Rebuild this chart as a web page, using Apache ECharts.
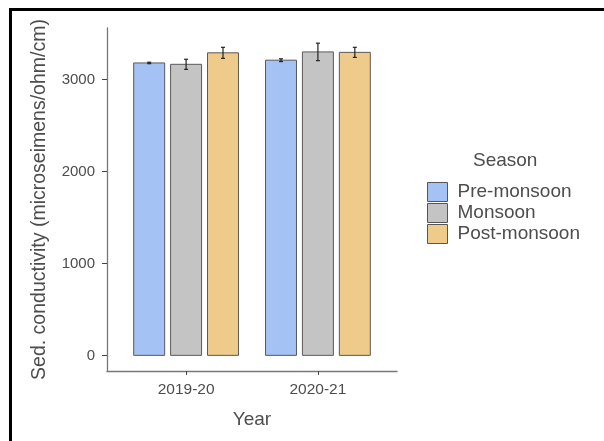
<!DOCTYPE html>
<html>
<head>
<meta charset="utf-8">
<script src="https://cdn.jsdelivr.net/npm/echarts@6/dist/echarts.min.js"></script>
<style>
  html, body { margin: 0; padding: 0; background: #fff; }
  #chart { width: 604px; height: 441px; }
  #frame { position: absolute; left: 9px; top: 8px; right: 0; bottom: 0;
           border-top: 3px solid #000; border-left: 3px solid #000; pointer-events: none; }
</style>
</head>
<body>
<div id="chart"></div>
<div id="frame"></div>
<script>
// data
var years = ['2019-20', '2020-21'];
var seasons = ['Pre-monsoon', 'Monsoon', 'Post-monsoon'];
var colors = ['#a4c2f4', '#c4c4c4', '#eecb8b'];
var preMonsoon = [3180, 3210];
var monsoon = [3165, 3300];
var postMonsoon = [3290, 3295];
var preErr = [8, 15];
var monsoonErr = [55, 95];
var postErr = [60, 55];
var yTicks = [0, 1000, 2000, 3000];

var means = [preMonsoon, monsoon, postMonsoon];
var errs = [preErr, monsoonErr, postErr];

var dodge = 0.28; // spacing between dodged bars, in x units
var barW = 0.235;
var font = 'Liberation Sans, Arial, sans-serif';

var chart = echarts.init(document.getElementById('chart'));

var makeSeries = function (k) {
  var data = years.map(function (y, i) {
    return [i + 1, means[k][i], errs[k][i]];
  });
  return {
    name: seasons[k],
    type: 'custom',
    itemStyle: { color: colors[k], borderColor: '#555', borderWidth: 1 },
    data: data,
    renderItem: function (params, api) {
      var x = api.value(0) + (k - 1) * dodge;
      var v = api.value(1);
      var e = api.value(2);
      var p0 = api.coord([x - barW / 2, 0]);
      var p1 = api.coord([x + barW / 2, v]);
      var lo = api.coord([x, v - e]);
      var hi = api.coord([x, v + e]);
      var cap = 2;
      return {
        type: 'group',
        children: [
          {
            type: 'rect',
            shape: { x: p0[0], y: p1[1], width: p1[0] - p0[0], height: p0[1] - p1[1] },
            style: { fill: colors[k], stroke: '#5a5a5a', lineWidth: 1 }
          },
          {
            type: 'line',
            shape: { x1: lo[0], y1: lo[1], x2: hi[0], y2: hi[1] },
            style: { stroke: '#222', lineWidth: 1.2 }
          },
          {
            type: 'line',
            shape: { x1: lo[0] - cap, y1: lo[1], x2: lo[0] + cap, y2: lo[1] },
            style: { stroke: '#222', lineWidth: 1.2 }
          },
          {
            type: 'line',
            shape: { x1: hi[0] - cap, y1: hi[1], x2: hi[0] + cap, y2: hi[1] },
            style: { stroke: '#222', lineWidth: 1.2 }
          }
        ]
      };
    }
  };
};

var option = {
  animation: false,
  textStyle: { fontFamily: font },
  title: {
    text: 'Season',
    left: 468,
    top: 146,
    textStyle: { fontSize: 19, fontWeight: 'normal', color: '#4d4d4d', fontFamily: font }
  },
  legend: {
    orient: 'vertical',
    left: 422,
    top: 177,
    itemWidth: 20,
    itemHeight: 19,
    itemGap: 1,
    icon: 'rect',
    itemStyle: { borderColor: '#555', borderWidth: 1 },
    textStyle: { fontSize: 19, color: '#4d4d4d', lineHeight: 19, fontFamily: font, padding: [0, 0, 0, 5] },
    data: seasons
  },
  grid: { left: 107, right: 207, top: 28, bottom: 70, containLabel: false },
  xAxis: {
    type: 'value',
    min: 0.4,
    max: 2.6,
    name: 'Year',
    nameLocation: 'middle',
    nameGap: 39,
    nameTextStyle: { fontSize: 19, color: '#4d4d4d', fontFamily: font },
    splitLine: { show: false },
    axisLine: { show: true, onZero: false, lineStyle: { color: '#777', width: 1.3 } },
    axisTick: { show: true, length: 4, customValues: [1, 2], lineStyle: { color: '#444' } },
    axisLabel: {
      customValues: [1, 2],
      margin: 11,
      fontSize: 15.5,
      color: '#4d4d4d',
      formatter: function (v) { return years[Math.round(v) - 1]; }
    }
  },
  yAxis: {
    type: 'value',
    min: -170,
    max: 3560,
    name: 'Sed. conductivity (microseimens/ohm/cm)',
    nameLocation: 'middle',
    nameGap: 57,
    nameTextStyle: { fontSize: 19.5, color: '#4d4d4d', fontFamily: font },
    splitLine: { show: false },
    axisLine: { show: true, onZero: false, lineStyle: { color: '#777', width: 1.3 } },
    axisTick: { show: true, length: 5, customValues: yTicks, lineStyle: { color: '#444' } },
    axisLabel: {
      customValues: yTicks,
      margin: 12,
      fontSize: 15,
      color: '#4d4d4d',
      formatter: function (v) { return String(v); }
    }
  },
  series: [makeSeries(0), makeSeries(1), makeSeries(2)]
};

chart.setOption(option);
</script>
</body>
</html>
